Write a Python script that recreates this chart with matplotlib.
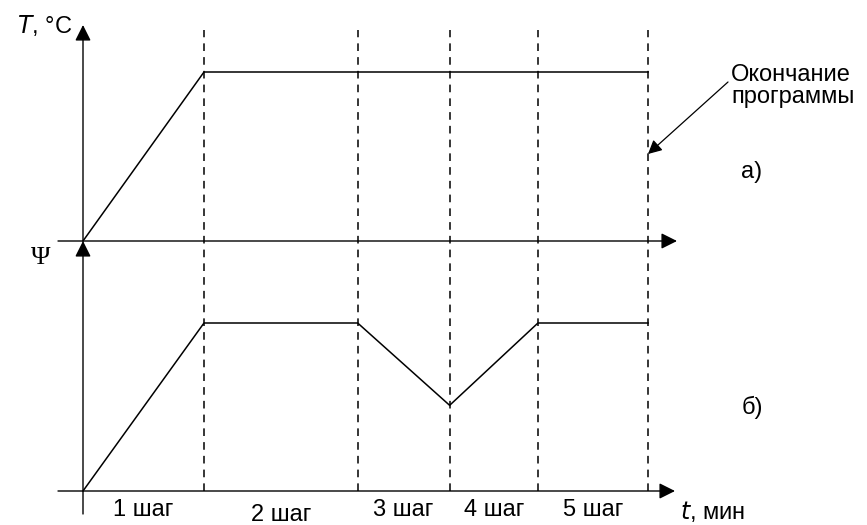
import matplotlib
matplotlib.use('Agg')
import matplotlib.pyplot as plt

# границы шагов программы (усл. ед. времени)
t_steps = [0, 10, 22.7, 30.3, 37.6, 46.7]
# а) температура
T_vals = [0, 1, 1, 1, 1, 1]
# б) величина Psi
psi_vals = [0, 1, 1, 0.51, 1, 1]
step_labels = ['1 шаг', '2 шаг', '3 шаг', '4 шаг', '5 шаг']

W, H = 867, 525
plt.rcParams['font.family'] = ['Liberation Sans', 'DejaVu Sans']

fig = plt.figure(figsize=(W / 100, H / 100), dpi=100)

# пиксельная привязка осей
X0 = 83          # вертикальная ось
XS = 12.1        # пикселей на единицу t
Y_TOP0 = 241     # нуль оси T
Y_BOT0 = 491     # нуль оси Psi
YS_TOP = 169
YS_BOT = 168

xlim = (-X0 / XS, (W - X0) / XS)

ax_top = fig.add_axes([0, 0, 1, 1])
ax_top.set_xlim(*xlim)
ax_top.set_ylim((Y_TOP0 - H) / YS_TOP, Y_TOP0 / YS_TOP)
ax_top.axis('off')

ax_bot = fig.add_axes([0, 0, 1, 1])
ax_bot.set_xlim(*xlim)
ax_bot.set_ylim((Y_BOT0 - H) / YS_BOT, Y_BOT0 / YS_BOT)
ax_bot.axis('off')
ax_bot.patch.set_alpha(0)


def px(x, y):
    # пиксели -> доли фигуры
    return (x / W, 1 - y / H)


def arr(tip, start, style='-|>,head_length=0.6,head_width=0.3', ms=16, lw=1.0):
    ax_top.annotate('', xy=px(*tip), xytext=px(*start), xycoords='figure fraction',
                    textcoords='figure fraction',
                    arrowprops=dict(arrowstyle=style, mutation_scale=ms, lw=lw,
                                    color='k', shrinkA=0, shrinkB=0))


# оси со стрелками
arr((83, 25), (83, 241))
arr((677, 241), (58, 241))
arr((83, 241), (83, 514))
arr((675, 491), (58, 491))

# пунктирные границы шагов
for t in t_steps[1:]:
    ax_top.axvline(t, ymin=1 - 491 / H, ymax=1 - 30 / H, color='k', lw=1.1,
                   linestyle=(0, (5, 4)))

# кривые
ax_top.plot(t_steps, T_vals, color='k', lw=1.1)
ax_bot.plot(t_steps, psi_vals, color='k', lw=1.1)

# подписи шагов
FS = 17
lab_y = [510, 515, 510, 510, 510]
for i, lab in enumerate(step_labels):
    xc = (t_steps[i] + t_steps[i + 1]) / 2
    ax_bot.text(xc, (Y_BOT0 - lab_y[i]) / YS_BOT, lab, fontsize=FS,
                ha='center', va='center')

fig.text(*px(680, 512), '$\\it{t}$, мин', fontsize=FS, ha='left', va='center')
fig.text(*px(17, 25), '$\\it{T}$, °C', fontsize=FS, ha='left', va='center')
fig.text(*px(41, 258), 'Ψ', fontsize=19, ha='center', va='center',
         family=['Liberation Serif', 'DejaVu Serif'])

# окончание программы
fig.text(*px(731, 86), 'Окончание\nпрограммы', fontsize=FS, ha='left',
         va='center', linespacing=1.05)
arr((648, 154), (728, 82), style='-|>,head_length=0.55,head_width=0.28', ms=15, lw=0.9)

fig.text(*px(752, 172), 'а)', fontsize=FS, ha='center', va='center')
fig.text(*px(752, 407), 'б)', fontsize=FS, ha='center', va='center')

fig.savefig('out.png', dpi=100)
